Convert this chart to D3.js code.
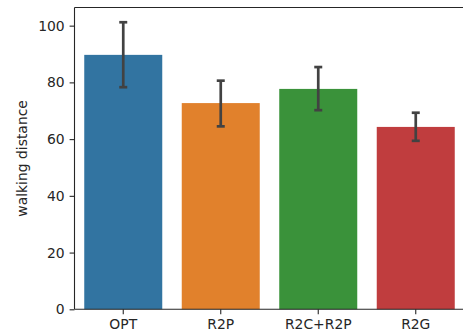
<!DOCTYPE html>
<html>
<head>
<meta charset="utf-8">
<script src="https://cdn.jsdelivr.net/npm/d3@7"></script>
<style>
  body { margin: 0; background: #fff; }
  text { font-family: "DejaVu Sans", sans-serif; fill: #262626; }
</style>
</head>
<body>
<svg id="chart" width="463" height="336"></svg>
<script>
var categories = ["OPT", "R2P", "R2C+R2P", "R2G"];
var means = [89.7, 72.7, 77.7, 64.3];
var ciLow = [78.3, 64.5, 70.2, 59.4];
var ciHigh = [101.2, 80.6, 85.4, 69.3];
var colors = ["#3274a1", "#e1812c", "#3a923a", "#c03d3e"];
var yTicks = [0, 20, 40, 60, 80, 100];

var margin = {left: 74.5, top: 7.5, right: -1.5, bottom: 26.7};
var svg = d3.select("#chart");
var W = +svg.attr("width"), H = +svg.attr("height");

// matplotlib style: bars of width 0.8 centred on integer slots
var x = d3.scaleBand()
    .domain(categories)
    .range([margin.left, W - margin.right])
    .paddingInner(0.2)
    .paddingOuter(0.1);

var y = d3.scaleLinear()
    .domain([0, 106.4])
    .range([H - margin.bottom, margin.top]);

var g = svg.append("g");

g.selectAll("rect.bar")
    .data(categories)
    .enter()
    .append("rect")
    .attr("class", "bar")
    .attr("x", function (d) { return x(d); })
    .attr("width", x.bandwidth())
    .attr("y", function (d, i) { return y(means[i]); })
    .attr("height", function (d, i) { return y(0) - y(means[i]); })
    .style("fill", function (d, i) { return colors[i]; });

// error bars
var capW = 4;
categories.forEach(function (c, i) {
    var cx = x(c) + x.bandwidth() / 2;
    var eb = g.append("g")
        .attr("stroke", "#424242")
        .attr("stroke-width", 2.7);
    eb.append("line")
        .attr("x1", cx).attr("x2", cx)
        .attr("y1", y(ciLow[i])).attr("y2", y(ciHigh[i]));
    eb.append("line")
        .attr("x1", cx - capW).attr("x2", cx + capW)
        .attr("y1", y(ciLow[i])).attr("y2", y(ciLow[i]));
    eb.append("line")
        .attr("x1", cx - capW).attr("x2", cx + capW)
        .attr("y1", y(ciHigh[i])).attr("y2", y(ciHigh[i]));
});

var xAxis = svg.append("g")
    .attr("transform", "translate(0," + y(0) + ")")
    .call(d3.axisBottom(x).tickSize(4.9).tickPadding(4.9).tickSizeOuter(0));
var yAxis = svg.append("g")
    .attr("transform", "translate(" + margin.left + ",0)")
    .call(d3.axisLeft(y).tickValues(yTicks).tickSize(4.9).tickPadding(4.9).tickSizeOuter(0));

[xAxis, yAxis].forEach(function (a) {
    a.selectAll("path").remove();
    a.selectAll("line").attr("stroke", "#262626").attr("stroke-width", 1.1);
    a.selectAll("text").style("font-size", "13.9px").style("font-family", "DejaVu Sans").attr("fill", "#262626");
});

// spines
var spine = svg.append("g").attr("stroke", "#262626").attr("stroke-width", 1.1).attr("fill", "none");
spine.append("line").attr("x1", margin.left).attr("x2", margin.left).attr("y1", margin.top).attr("y2", y(0));
spine.append("line").attr("x1", margin.left).attr("x2", W - margin.right).attr("y1", y(0)).attr("y2", y(0));
spine.append("line").attr("x1", margin.left).attr("x2", W - margin.right).attr("y1", margin.top).attr("y2", margin.top);
spine.append("line").attr("x1", W - margin.right).attr("x2", W - margin.right).attr("y1", margin.top).attr("y2", y(0));

svg.append("text")
    .attr("transform", "translate(27," + ((margin.top + y(0)) / 2) + ") rotate(-90)")
    .attr("text-anchor", "middle")
    .style("font-size", "13.9px")
    .text("walking distance");
</script>
</body>
</html>
